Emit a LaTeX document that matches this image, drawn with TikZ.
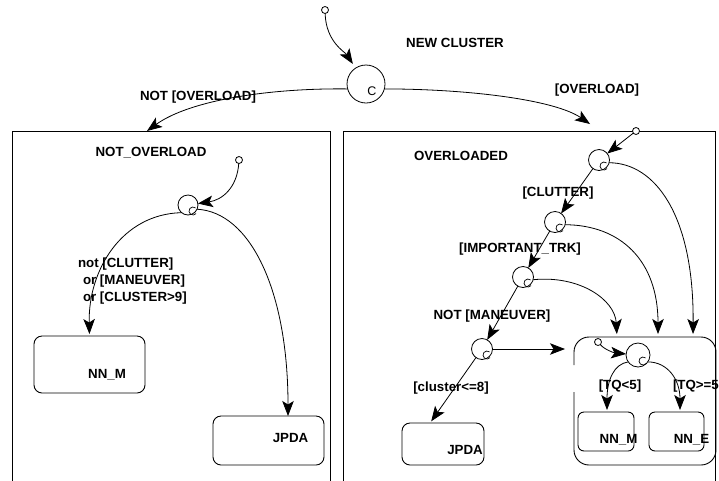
\documentclass[tikz,border=0pt]{standalone}
\usepackage{fontspec}
\setmainfont{Liberation Sans}
\usetikzlibrary{arrows.meta}

\begin{document}
\begin{tikzpicture}[x=1pt,y=-1pt,
  every node/.style={inner sep=0pt, outer sep=0pt},
  lbl/.style={font=\fontsize{13.3}{16}\selectfont\bfseries, text height=9.5pt, text depth=0pt},
  region/.style={draw, line width=0.9pt, rectangle},
  statebox/.style={draw, line width=0.9pt, rounded corners=8pt},
  substate/.style={draw, line width=0.9pt, rounded corners=6pt},
  junc/.style={draw, circle, line width=0.8pt, fill=white},
  init/.style={draw, circle, minimum size=7pt, line width=0.8pt, fill=white},
  arr/.style={line width=0.8pt, -{Stealth[length=15pt,width=11.5pt,inset=3.5pt]}},
]
\useasboundingbox (0,0) rectangle (719,480);
\clip (0,0) rectangle (719,480);

% top-level regions
\node[region, minimum width=318pt, minimum height=359pt] (notov) at (171,310.5) {};
\node[region, minimum width=372pt, minimum height=359pt] (ovl) at (529,310.5) {};

% states
\node[statebox, minimum width=111pt, minimum height=57pt] (nnmL) at (89.5,364.5) {};
\node[statebox, minimum width=111pt, minimum height=49pt] (jpdaL) at (268.5,440.5) {};
\node[statebox, minimum width=82pt, minimum height=42pt] (jpdaR) at (443,444) {};
\node[minimum width=142pt, minimum height=128pt] (bigbox) at (645,401) {};
\node[substate, minimum width=56pt, minimum height=39pt] (nnmR) at (606,431.5) {};
\node[substate, minimum width=55pt, minimum height=39pt] (nneR) at (676.5,431.5) {};

% outline of the compound state (open on its left side)
\draw[line width=0.9pt, rounded corners=15pt]
  ([yshift=-28pt]bigbox.north west) -- (bigbox.north west) -- (bigbox.north east)
  -- (bigbox.south east) -- (bigbox.south west) -- ([yshift=-55pt]bigbox.north west);

% connective junctions
\node[junc, minimum size=38pt] (cmain) at (366,84) {};
\node[font=\fontsize{12.5}{12}\selectfont] (cl) at (372,91) {C};
\node[junc, minimum size=20pt] (jL) at (188,205) {};
\node[junc, minimum size=21pt] (j1) at (599,160) {};
\node[junc, minimum size=21pt] (j2) at (555,222) {};
\node[junc, minimum size=21pt] (j3) at (523,277) {};
\node[junc, minimum size=21pt] (j4) at (482,349) {};
\node[junc, minimum size=24pt] (j5) at (638,355) {};
\foreach \j in {jL,j1,j2,j3,j4,j5}
  \draw[line width=0.7pt] (\j.center) ++(5pt,-6pt) ++(50:4pt)
    arc[start angle=50, end angle=320, radius=4pt];

% default entries
\node[init] (i0) at (325,10) {};
\node[init] (iL) at (239,160) {};
\node[init] (iR) at (636,131) {};
\node[init] (iB) at (598,342) {};

% entry points on the region borders
\coordinate (notovIn) at (147,131);
\coordinate (ovIn) at (590,124);

% labels
\node[lbl] (tNew) at (455,43) {NEW CLUSTER};
\node[lbl] (tNotOv) at (198,96) {NOT [OVERLOAD]};
\node[lbl] (tOv) at (597,89) {[OVERLOAD]};
\node[lbl] (tNotOverload) at (151,152) {NOT\_OVERLOAD};
\node[lbl] (tOverloaded) at (461,156) {OVERLOADED};
\node[lbl, anchor=west] (tC1) at (78,263) {not [CLUTTER]};
\node[lbl, anchor=west] (tC2) at (83,280) {or [MANEUVER]};
\node[lbl, anchor=west] (tC3) at (83,297) {or [CLUSTER>9]};
\node[lbl] (tClut) at (558,192) {[CLUTTER]};
\node[lbl] (tImp) at (520,248) {[IMPORTANT\_TRK]};
\node[lbl] (tMan) at (492,315) {NOT [MANEUVER]};
\node[lbl] (tCl8) at (451,387) {[cluster<=8]};
\node[lbl] (tTQa) at (620,385) {[TQ<5]};
\node[lbl, anchor=west] (tTQb) at (673,385) {[TQ>=5};
\node[lbl] (tNnmL) at (107,374) {NN\_M};
\node[lbl] (tJpdaL) at (290.5,438) {JPDA};
\node[lbl] (tJpdaR) at (465,450) {JPDA};
\node[lbl] (tNnmR) at (618.5,439) {NN\_M};
\node[lbl] (tNneR) at (691.5,439) {NN\_E};

% top-level transitions
\draw[arr, shorten >=5pt] (i0) .. controls (326,42) and (345,52) .. (cmain);
\draw[arr] (cmain.195) .. controls (270,88) and (190,100) .. (notovIn);
\draw[arr] (cmain.-15) .. controls (470,89) and (555,100) .. (ovIn);

% NOT_OVERLOAD transitions
\draw[arr] (iL) .. controls (237,188) and (222,200) .. (jL);
\draw[arr, shorten >=2pt] (jL.230) .. controls (122,214) and (88,270) .. (nnmL.north);
\draw[arr] (jL.335) .. controls (250,212) and (288,290) .. ([xshift=19.5pt]jpdaL.north);

% OVERLOADED transitions
\draw[arr] (iR) -- (j1);
\draw[arr] (j1) -- (j2);
\draw[arr] (j2) -- (j3);
\draw[arr] (j3) -- (j4);
\draw[arr, shorten >=2pt] (j4) -- ([xshift=-13pt]jpdaR.north);
\draw[arr, shorten >=9pt] (j4) -- (j4 -| bigbox.west);
\draw[arr, shorten >=3pt] (j1.345) .. controls (655,163) and (694,215) .. ([xshift=48pt]bigbox.north);
\draw[arr, shorten >=3pt] (j2.345) .. controls (620,225) and (658,260) .. ([xshift=13pt]bigbox.north);
\draw[arr, shorten >=3pt] (j3.345) .. controls (580,275) and (615,300) .. ([xshift=-28pt]bigbox.north);

% inner compound state
\draw[arr] (iB) .. controls (605,350) and (615,353) .. (j5);
\draw[arr, shorten >=2pt] (j5.215) .. controls (614,364) and (607,380) .. ([xshift=1pt]nnmR.north);
\draw[arr, shorten >=2pt] (j5.325) .. controls (668,362) and (680,380) .. ([xshift=3.5pt]nneR.north);
\end{tikzpicture}
\end{document}
